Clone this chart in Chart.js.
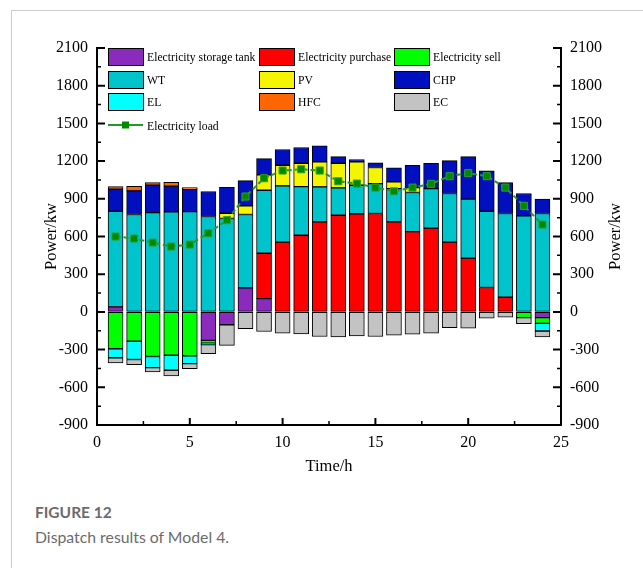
<!DOCTYPE html>
<html>
<head>
<meta charset="utf-8">
<script src="https://cdn.jsdelivr.net/npm/chart.js@4.4.0/dist/chart.umd.min.js"></script>
<style>
  body { margin: 0; background: #fff; width: 643px; height: 568px; overflow: hidden; position: relative; }
  #card { position: absolute; left: 11px; top: 10px; width: 700px; height: 700px;
          border-left: 1px solid #cccccc; border-top: 1px solid #cccccc; }
  #chart { position: absolute; left: 0; top: 0; }
  #fig { position: absolute; left: 35px; top: 503px; font-family: Lato, "Open Sans", sans-serif;
         font-weight: bold; font-size: 15.5px; color: #6b6b6b; }
  #cap { position: absolute; left: 35px; top: 527px; font-family: Lato, "Open Sans", sans-serif;
         font-size: 15.8px; color: #6b6b6b; }
</style>
</head>
<body>
<div id="card"></div>
<canvas id="chart" width="643" height="490"></canvas>
<div id="fig">FIGURE 12</div>
<div id="cap">Dispatch results of Model 4.</div>
<script>
// hours on the x axis
var hours = [1, 2, 3, 4, 5, 6, 7, 8, 9, 10, 11, 12, 13, 14, 15, 16, 17, 18, 19, 20, 21, 22, 23, 24];

// power of each unit per hour (kw)
var storage  = [40, 0, 0, 0, 0, -227, -102, 191, 106, 0, 0, 0, 0, 0, 0, 0, 0, 0, 0, 0, 0, 0, 0, -46];
var purchase = [0, 0, 0, 0, 0, 0, 0, 0, 361, 555, 610, 716, 769, 780, 783, 716, 639, 666, 555, 427, 194, 117, 0, 0];
var sell     = [-293, -233, -355, -345, -350, -21, 0, 0, 0, 0, 0, 0, 0, 0, 0, 0, 0, 0, 0, 0, 0, 0, -46, -45];
var wt       = [761, 775, 790, 796, 798, 759, 743, 584, 501, 448, 387, 279, 218, 228, 238, 265, 311, 315, 387, 470, 607, 666, 764, 783];
var pv       = [0, 0, 0, 0, 0, 0, 42, 69, 122, 164, 186, 199, 196, 186, 128, 54, 39, 0, 0, 0, 0, 0, 0, 0];
var chp      = [175, 188, 218, 204, 178, 199, 207, 201, 130, 125, 125, 127, 53, 18, 37, 111, 178, 202, 262, 339, 321, 246, 178, 114];
var el       = [-72, -146, -88, -119, -61, -13, 0, 0, 0, 0, 0, 0, 0, 0, 0, 0, 0, 0, 0, 0, 0, 0, 0, -61];
var hfc      = [21, 37, 21, 32, 13, 0, 0, 0, 0, 0, 0, 0, 0, 0, 0, 0, 0, 0, 0, 0, 0, 0, 0, 0];
var ec       = [-40, -40, -34, -45, -40, -72, -165, -134, -156, -170, -175, -196, -199, -191, -196, -186, -178, -170, -125, -130, -49, -41, -48, -48];
var load     = [600, 584, 552, 520, 536, 626, 730, 918, 1064, 1125, 1135, 1125, 1040, 1021, 989, 960, 989, 1019, 1080, 1104, 1080, 989, 844, 695];

// y axis ticks
var yTicks = [-900, -600, -300, 0, 300, 600, 900, 1200, 1500, 1800, 2100];

// turn a series into {x, y} points, zero means no bar
var toPoints = function(arr) {
  return hours.map(function(h, i) {
    return { x: h, y: arr[i] === 0 ? null : arr[i] };
  });
};

var bar = function(label, arr, colour) {
  return {
    type: 'bar', label: label, data: toPoints(arr), backgroundColor: colour,
    borderColor: '#000', borderWidth: 1, borderSkipped: false, barThickness: 15, stack: 'power'
  };
};

var datasets = [
  bar('Electricity storage tank', storage, '#8b2bbe'),
  bar('Electricity purchase', purchase, '#ff0000'),
  bar('Electricity sell', sell, '#00ff00'),
  bar('WT', wt, '#00c4cc'),
  bar('PV', pv, '#f5f500'),
  bar('CHP', chp, '#0010be'),
  bar('EL', el, '#00ffff'),
  bar('HFC', hfc, '#ff6600'),
  bar('EC', ec, '#c3c3c3'),
  {
    type: 'line', label: 'Electricity load', data: hours.map(function(h, i) { return { x: h, y: load[i] }; }),
    borderColor: '#239a23', borderWidth: 2, borderDash: [5, 3], pointStyle: 'rect', pointRadius: 5,
    pointBackgroundColor: '#008a00', pointBorderColor: '#2e9e2e', pointBorderWidth: 1,
    stack: 'load', order: -1, tension: 0
  }
];

var serif = '"Liberation Serif", "Times New Roman", serif';

// inward ticks, right axis title and the legend
var extras = {
  id: 'extras',
  afterDraw: function(chart) {
    var ctx = chart.ctx;
    var x = chart.scales.x, y = chart.scales.y;
    var a = chart.chartArea;
    ctx.save();
    ctx.strokeStyle = '#000';
    // y ticks, left and right
    for (var v = -900; v <= 2100; v += 150) {
      var py = y.getPixelForValue(v);
      var len = (v % 300 === 0) ? 8 : 4;
      ctx.lineWidth = (v % 300 === 0) ? 2 : 1.5;
      ctx.beginPath();
      ctx.moveTo(a.left, py); ctx.lineTo(a.left + len, py);
      ctx.moveTo(a.right, py); ctx.lineTo(a.right - len, py);
      ctx.stroke();
    }
    // x ticks
    for (var t = 0; t <= 25; t += 2.5) {
      var px = x.getPixelForValue(t);
      var l2 = (t % 5 === 0) ? 7 : 4;
      ctx.lineWidth = (t % 5 === 0) ? 2 : 1.5;
      ctx.beginPath();
      ctx.moveTo(px, a.bottom); ctx.lineTo(px, a.bottom - l2);
      ctx.stroke();
    }
    // right title reads upwards like the left one
    ctx.fillStyle = '#000';
    ctx.font = '16.5px ' + serif;
    ctx.textAlign = 'center';
    ctx.textBaseline = 'middle';
    ctx.translate(616, (a.top + a.bottom) / 2);
    ctx.rotate(-Math.PI / 2);
    ctx.fillText('Power/kw', 0, 0);
    ctx.restore();

    // legend, three columns
    ctx.save();
    var cols = [108, 259, 394];
    var rows = [48, 71, 93];
    ctx.font = '11.7px ' + serif;
    ctx.textBaseline = 'middle';
    ctx.textAlign = 'left';
    chart.data.datasets.forEach(function(ds, i) {
      if (ds.type !== 'bar') return;
      var bx = cols[i % 3], by = rows[Math.floor(i / 3)];
      ctx.fillStyle = ds.backgroundColor;
      ctx.fillRect(bx, by, 35, 17);
      ctx.lineWidth = 1;
      ctx.strokeStyle = '#000';
      ctx.strokeRect(bx + 0.5, by + 0.5, 35, 17);
      ctx.fillStyle = '#000';
      ctx.fillText(ds.label, bx + 39, by + 10);
    });
    var ld = chart.data.datasets[9];
    ctx.strokeStyle = ld.borderColor;
    ctx.lineWidth = 2;
    ctx.beginPath();
    ctx.moveTo(108, 125); ctx.lineTo(143, 125);
    ctx.stroke();
    ctx.fillStyle = ld.pointBackgroundColor;
    ctx.fillRect(122, 121.5, 7, 7);
    ctx.fillStyle = '#000';
    ctx.fillText(ld.label, 147, 127);
    ctx.restore();
  }
};

var yAxis = function(pos, fitWidth) {
  return {
    type: 'linear', position: pos, min: -900, max: 2100, stacked: pos === 'left',
    afterBuildTicks: function(s) { s.ticks = yTicks.map(function(v) { return { value: v }; }); },
    afterFit: function(s) { s.width = fitWidth; },
    grid: { display: true, drawOnChartArea: false, drawTicks: false },
    border: { display: true, color: '#000', width: 2 },
    ticks: { color: '#000', padding: 9, font: { family: serif, size: 16 }, callback: function(v) { return String(v); } },
    title: pos === 'left'
      ? { display: true, text: 'Power/kw', color: '#000', font: { family: serif, size: 16.5 }, padding: { top: 42, bottom: 0 } }
      : { display: false }
  };
};

var mainApp = function() {
  var ctx = document.getElementById('chart').getContext('2d');
  new Chart(ctx, {
    data: { datasets: datasets },
    plugins: [extras],
    options: {
      responsive: false,
      animation: false,
      layout: { padding: { top: 48, left: 0, right: 0, bottom: 0 } },
      plugins: { legend: { display: false }, tooltip: { enabled: false } },
      scales: {
        x: {
          type: 'linear', min: 0, max: 25, stacked: true, offset: false,
          afterFit: function(s) { s.height = 65; },
          grid: { display: true, drawOnChartArea: false, drawTicks: false, offset: false },
          border: { display: true, color: '#000', width: 2 },
          ticks: { stepSize: 5, color: '#000', padding: 8, font: { family: serif, size: 16 } },
          title: { display: true, text: 'Time/h', color: '#000', font: { family: serif, size: 16.5 }, padding: { top: 0, bottom: 13 } }
        },
        y: yAxis('left', 97),
        y2: yAxis('right', 82)
      }
    }
  });
};

window.onload = mainApp;
</script>
</body>
</html>
